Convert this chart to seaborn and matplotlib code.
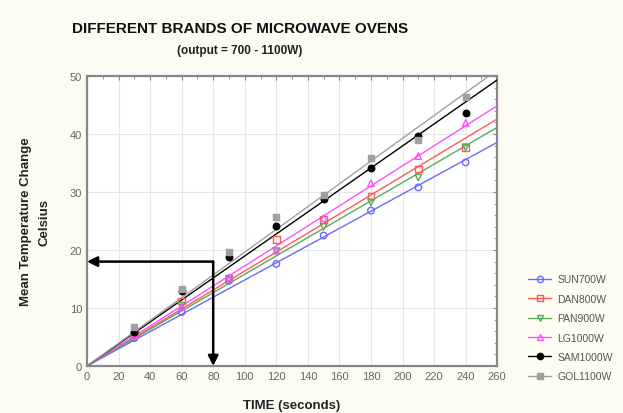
import numpy as np
import pandas as pd
import matplotlib
matplotlib.use("Agg")
import matplotlib.pyplot as plt
from matplotlib.ticker import MultipleLocator
import seaborn as sns

# Measurement times (seconds)
time_s = [30, 60, 90, 120, 150, 180, 210, 240]

# Mean temperature change (Celsius) per oven brand
sun700 = [4.8, 9.3, 14.7, 17.6, 22.5, 26.8, 30.8, 35.1]
dan800 = [5.5, 11.2, 15.2, 21.8, 25.3, 29.3, 34.0, 37.7]
pan900 = [5.0, 10.4, 15.0, 19.8, 24.0, 28.2, 32.5, 37.7]
lg1000 = [5.2, 10.2, 15.3, 19.9, 25.5, 31.5, 36.2, 41.9]
sam1000 = [5.8, 13.0, 18.8, 24.2, 28.8, 34.1, 39.7, 43.7]
gol1100 = [6.7, 13.3, 19.6, 25.7, 29.4, 35.9, 39.0, 46.4]

brands = ["SUN700W", "DAN800W", "PAN900W", "LG1000W", "SAM1000W", "GOL1100W"]
series = [sun700, dan800, pan900, lg1000, sam1000, gol1100]

colors = ["#6a6aff", "#ff5a5a", "#5aaa5a", "#ff50ff", "#000000", "#a0a0a0"]
markers = ["o", "s", "v", "^", "o", "s"]
filled = [False, False, False, False, True, True]

# Example reading: time and temperature marked with arrows
read_time = 80
read_temp = 18

sns.set_style("white")
plt.rcParams["font.family"] = ["Liberation Sans", "DejaVu Sans"]

fig = plt.figure(figsize=(6.23, 4.14), dpi=100)
fig.patch.set_facecolor("#fcfcf3")
ax = fig.add_axes([0.1396, 0.1135, 0.6585, 0.7005])
ax.set_facecolor("white")

x = np.array(time_s, dtype=float)
for name, vals, col, mk, fl in zip(brands, series, colors, markers, filled):
    y = np.array(vals, dtype=float)
    # least-squares line through the origin
    slope = np.sum(x * y) / np.sum(x * x)
    fit = pd.DataFrame({"t": [0, 260], "v": [0, slope * 260]})
    sns.lineplot(data=fit, x="t", y="v", ax=ax, color=col, lw=1.0,
                 legend=False, zorder=3)
    pts = pd.DataFrame({"t": time_s, "v": vals})
    sns.scatterplot(data=pts, x="t", y="v", ax=ax, marker=mk, s=22,
                    facecolor=col if fl else "none", edgecolor=col,
                    linewidth=1.0, zorder=4, legend=False)
    # legend proxy
    ax.plot([], [], color=col, lw=1.0, marker=mk, ms=4.5,
            mfc=col if fl else "none", mec=col, label=name)

# Arrows: reading the temperature at a given time
ax.annotate("", xy=(0, read_temp), xytext=(read_time, read_temp),
            arrowprops=dict(arrowstyle="-|>", color="black", lw=1.8,
                            mutation_scale=15, shrinkA=0, shrinkB=0),
            zorder=5)
ax.annotate("", xy=(read_time, 0), xytext=(read_time, read_temp),
            arrowprops=dict(arrowstyle="-|>", color="black", lw=1.8,
                            mutation_scale=15, shrinkA=0, shrinkB=0),
            zorder=5)

ax.set_xlim(0, 260)
ax.set_ylim(0, 50)
ax.xaxis.set_major_locator(MultipleLocator(20))
ax.xaxis.set_minor_locator(MultipleLocator(10))
ax.yaxis.set_major_locator(MultipleLocator(10))
ax.yaxis.set_minor_locator(MultipleLocator(2))
ax.grid(True, which="major", color="#e6e6e6", lw=0.8, zorder=0)
ax.set_axisbelow(True)
ax.tick_params(which="both", direction="in", top=True, right=True,
               color="#888888", labelcolor="#666666", labelsize=8)
ax.tick_params(which="major", length=3, width=0.8)
ax.tick_params(which="minor", length=2, width=0.6)
for sp in ax.spines.values():
    sp.set_visible(True)
    sp.set_color("#888888")
    sp.set_linewidth(1.6)

ax.set_xlabel("TIME (seconds)", fontsize=9.5, fontweight="bold",
              color="#222222", labelpad=13)
ax.set_ylabel("Mean Temperature Change\nCelsius", fontsize=9.5,
              fontweight="bold", color="#222222", labelpad=14,
              linespacing=1.7)

fig.text(0.386, 0.930, "DIFFERENT BRANDS OF MICROWAVE OVENS",
         ha="center", va="center", fontsize=11, fontweight="bold",
         color="#111111")
fig.text(0.384, 0.877, "(output = 700 - 1100W)", ha="center", va="center",
         fontsize=8.5, fontweight="bold", color="#222222")

leg = ax.legend(loc="upper left", bbox_to_anchor=(1.065, 0.33),
                frameon=False, fontsize=7.5, handlelength=2.2,
                labelspacing=0.9, handletextpad=0.6, borderaxespad=0)
for t in leg.get_texts():
    t.set_color("#555555")

fig.savefig("out.png", dpi=100, facecolor=fig.get_facecolor())
